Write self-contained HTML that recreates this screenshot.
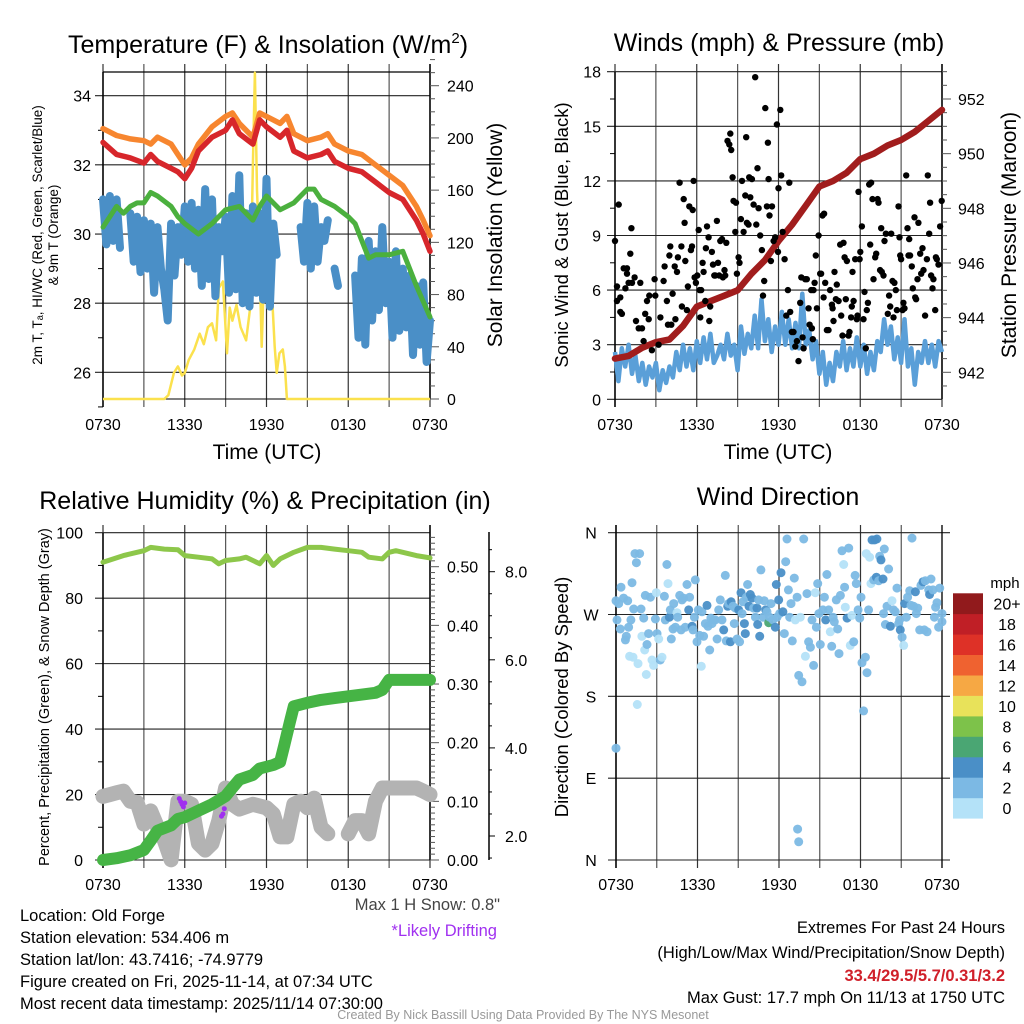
<!DOCTYPE html>
<html><head><meta charset="utf-8"><title>Old Forge Meteogram</title>
<style>
html,body{margin:0;padding:0;background:#fff;}
svg{display:block;font-family:"Liberation Sans",Arial,sans-serif;}
</style></head>
<body>
<svg id="fig" xmlns="http://www.w3.org/2000/svg" width="1024" height="1024" viewBox="0 0 1024 1024">
<rect x="0" y="0" width="1024" height="1024" fill="#fff"/>
<g fill="#000">
<text x="268" y="53" font-size="25" text-anchor="middle">Temperature (F) &amp; Insolation (W/m<tspan font-size="15" dy="-10">2</tspan><tspan dy="10">)</tspan></text>
<text x="779" y="51" font-size="25" text-anchor="middle">Winds (mph) &amp; Pressure (mb)</text>
<text x="265" y="509" font-size="25" text-anchor="middle">Relative Humidity (%) &amp; Precipitation (in)</text>
<text x="778" y="505" font-size="25" text-anchor="middle">Wind Direction</text>
</g>
<g id="layers"></g>
<g font-size="16.5" fill="#000">
<text x="20" y="921">Location: Old Forge</text>
<text x="20" y="943">Station elevation: 534.406 m</text>
<text x="20" y="965">Station lat/lon: 43.7416; -74.9779</text>
<text x="20" y="987">Figure created on Fri, 2025-11-14, at 07:34 UTC</text>
<text x="20" y="1009">Most recent data timestamp: 2025/11/14 07:30:00</text>
<text x="500" y="910" text-anchor="end" fill="#444">Max 1 H Snow: 0.8"</text>
<text x="497" y="936" text-anchor="end" fill="#a030f0">*Likely Drifting</text>
<text x="1005" y="933" text-anchor="end">Extremes For Past 24 Hours</text>
<text x="1005" y="958" text-anchor="end">(High/Low/Max Wind/Precipitation/Snow Depth)</text>
<text x="1005" y="981" text-anchor="end" fill="#d0202a" font-weight="bold">33.4/29.5/5.7/0.31/3.2</text>
<text x="1005" y="1003" text-anchor="end">Max Gust: 17.7 mph On 11/13 at 1750 UTC</text>
<text x="523" y="1019" text-anchor="middle" font-size="12.5" fill="#999">Created By Nick Bassill Using Data Provided By The NYS Mesonet</text>
</g>
</svg>
<script>
// ---------- DATA ----------
const timeTickLabels = ["0730","1330","1930","0130","0730"];
// Panel 1: temperature (F), times in hours since 0730
const orangeT = [0,1,2,3,3.5,4,5,5.5,6,6.5,7,8,9,9.5,10,11,11.5,12,13,13.5,14,15,16,16.5,17,18,19,20,21,22,23,23.5,24];
const orangeV = [33.05,32.85,32.75,32.7,32.6,32.8,32.6,32.3,32.0,32.2,32.6,33.1,33.4,33.5,33.2,32.8,33.5,33.4,33.2,33.4,32.9,32.7,32.8,32.9,32.6,32.4,32.3,32.0,31.7,31.4,30.8,30.4,29.95];
const redT = [0,1,2,3,3.5,4,5,5.5,6,6.5,7,8,9,9.5,10,11,11.5,12,13,13.5,14,15,16,16.5,17,18,19,20,21,22,23,23.5,24];
const redV = [32.65,32.3,32.2,32.05,32.3,32.1,31.9,31.8,31.6,31.9,32.4,32.8,33.0,33.3,32.9,32.6,33.3,33.1,32.8,33.0,32.4,32.2,32.3,32.4,32.1,31.9,31.8,31.5,31.2,31.0,30.4,30.0,29.5];
const greenT = [0,0.5,1,1.5,2,2.5,3,3.5,4,5,5.5,6,7,8,9,10,11,11.5,12,13,14,15,15.5,16,17,18,18.5,19,19.5,20,21,22,22.5,23,24];
const greenV = [30.2,30.5,30.8,30.6,30.8,30.9,30.9,31.2,31.1,30.8,30.5,30.3,30.0,30.3,30.7,30.8,30.4,30.8,31.1,30.7,30.9,31.3,31.3,31.0,30.8,30.5,30.3,29.8,29.3,29.4,29.4,29.5,29.0,28.5,27.6];
const blueSegStart = [0, 2.0, 6.25, 14.5, 17.0, 18.5];
const blueSegVals = [
 [31.0,29.7,31.1,29.8,31.0,29.6],
 [30.6,29.2,30.5,28.9,30.4,29.0,30.3,28.3,30.2,29.0,28.4,27.5,30.3,28.8,30.2,29.4,30.8],
 [29.2,30.9,29.0,30.7,28.5,31.3,28.7,31.0,28.2,30.2,29.5,30.5,28.3,31.1,28.4,31.7,28.0,30.6,27.9,30.8,28.3,30.6,28.1,31.6,27.9,30.3,29.4],
 [30.2,29.2,30.9,29.0,30.8,29.2,30.2,29.8,30.4],
 [29.0,28.5],
 [28.8,27.0,29.3,26.8,29.8,27.5,29.5,27.8,30.2,28.0,29.2,27.0,29.5,27.2,29.0,27.3,28.8,26.5,28.5,26.8,28.6,26.3,27.5]
];
const solarT = [0,4.5,4.8,5.2,5.5,5.8,6.0,6.3,6.7,7.1,7.4,7.7,8.0,8.3,8.5,8.8,9.1,9.3,9.5,9.8,10.1,10.5,10.8,11.0,11.15,11.3,11.45,11.65,11.8,12.0,12.2,12.4,12.6,12.75,12.95,13.2,13.35,13.5,13.8,24];
const solarV = [0,0,3,20,25,18,20,30,38,50,42,55,58,45,85,90,35,70,60,72,55,45,70,180,250,160,120,40,90,135,110,80,40,20,35,38,25,0,0,0];
const tempTicks = [26,28,30,32,34];
const solarTicks = [0,40,80,120,160,200,240];
// Panel 2: winds
const windVals = [2.6,1.0,2.8,1.8,3.0,1.4,2.4,1.0,2.0,0.8,1.8,1.2,2.0,0.5,1.6,0.9,1.8,1.2,2.6,1.6,3.0,1.8,2.8,1.6,3.2,2.0,3.4,2.2,3.6,2.0,2.4,3.0,2.2,3.6,2.4,3.0,1.6,4.0,2.5,3.6,2.8,4.6,2.8,5.5,3.2,4.4,2.6,4.0,3.0,4.8,3.0,4.4,2.8,4.2,2.8,5.8,3.0,3.8,2.2,3.2,1.4,2.6,0.8,2.0,1.0,2.6,1.8,3.2,1.6,2.8,1.8,3.4,1.8,3.0,1.4,2.6,1.6,3.2,2.6,4.4,3.0,4.0,2.2,3.4,2.0,4.4,1.8,2.8,0.8,2.6,2.0,3.2,2.0,3.0,1.8,3.2,2.6];
const gustT = [0,0.15,0.27,0.15,0.39,0.51,0.39,0.64,0.76,0.88,0.88,1.0,1.12,1.2,1.25,1.44,1.54,1.74,1.86,1.98,2.1,2.22,2.35,2.47,2.52,2.71,2.91,2.96,3.2,3.33,3.57,3.64,3.81,3.89,3.99,4.06,4.13,4.23,4.38,4.43,4.55,4.62,4.74,4.87,4.91,5.04,5.11,5.16,5.28,5.35,5.45,5.57,5.65,5.7,5.77,5.84,5.94,6.04,6.14,6.21,6.26,6.33,6.43,6.5,6.63,6.67,6.75,6.87,6.92,6.99,7.11,7.19,7.29,7.36,7.48,7.56,7.65,7.73,7.85,7.92,8.04,8.09,8.17,8.26,8.39,8.46,8.53,8.63,8.7,8.83,8.88,8.95,9.07,9.14,9.24,9.32,9.44,9.56,9.63,9.68,9.8,9.85,9.93,10.05,10.17,10.29,10.37,10.46,10.54,10.66,10.78,10.86,10.95,11.03,11.15,11.22,11.27,11.34,11.44,11.52,11.64,11.76,11.88,11.96,12.0,12.13,12.2,12.3,12.45,12.57,12.69,12.79,12.86,12.98,13.1,13.23,13.35,13.47,13.59,13.67,13.77,13.84,13.96,14.08,14.21,14.28,14.4,14.45,14.52,14.57,14.65,14.74,14.82,14.94,15.06,15.13,15.23,15.31,15.35,15.43,15.55,15.67,15.79,15.92,15.97,16.04,16.11,16.21,16.28,16.41,16.53,16.6,16.7,16.77,16.85,16.94,17.02,17.14,17.21,17.33,17.38,17.43,17.51,17.63,17.75,17.8,17.87,17.95,18.0,18.12,18.24,18.31,18.41,18.48,18.56,18.66,18.73,18.8,18.9,18.97,19.1,19.17,19.27,19.34,19.46,19.54,19.58,19.71,19.78,19.88,20.02,20.12,20.2,20.27,20.37,20.44,20.51,20.61,20.69,20.81,20.88,20.93,21.0,21.1,21.17,21.25,21.37,21.47,21.54,21.59,21.66,21.78,21.86,21.98,22.03,22.1,22.2,22.27,22.4,22.47,22.57,22.64,22.76,22.89,22.96,23.06,23.13,23.2,23.3,23.37,23.5,23.55,23.62,23.74,23.86,23.98];
const gustV = [8.7,6.2,10.7,5.4,4.8,4.7,5.6,7.2,6.1,7.2,6.9,6.4,8.0,9.4,6.4,6.7,4.3,3.9,6.4,3.9,3.2,4.7,5.4,4.4,5.7,2.7,6.6,5.7,3.0,4.5,6.5,7.3,5.4,4.1,7.9,8.4,4.1,5.8,7.3,4.4,7.0,7.8,11.9,8.4,5.1,11.0,9.7,7.6,4.9,6.2,10.6,8.2,8.4,10.4,12.0,6.7,6.4,6.8,9.3,6.0,4.5,6.0,7.5,7.0,5.4,8.3,9.5,8.9,4.3,5.1,8.1,7.4,6.8,6.8,9.8,7.5,6.8,8.7,8.8,6.7,7.1,6.8,8.6,14.2,14.0,14.6,13.7,12.2,10.9,9.2,10.8,6.9,7.8,7.5,9.9,12.0,9.2,11.2,14.4,9.7,9.6,12.2,11.1,12.1,10.7,17.7,9.6,12.7,10.5,9.0,8.2,5.7,6.5,16.0,10.6,14.1,12.1,10.1,7.6,10.6,8.7,8.9,15.1,8.1,11.6,15.9,12.3,9.2,7.7,4.6,6.0,11.9,4.8,3.7,3.7,2.9,3.2,2.1,5.3,6.7,3.4,2.8,6.6,6.6,5.0,4.1,6.0,3.9,3.3,6.0,6.4,7.9,5.0,9.0,6.9,6.9,10.1,5.6,10.2,6.4,3.8,3.8,6.0,5.2,5.0,4.3,7.0,5.5,6.3,5.4,8.5,4.6,3.5,8.6,7.8,5.5,7.6,3.5,3.7,4.5,5.1,7.0,5.4,7.7,4.4,4.6,11.4,7.7,8.1,9.5,4.4,5.9,2.8,4.9,5.3,11.8,8.5,11.9,11.0,6.6,7.8,8.0,11.0,10.8,7.1,9.4,7.0,6.8,8.7,9.1,4.7,5.7,5.1,9.1,6.5,4.5,6.4,6.0,4.9,10.6,8.9,7.9,7.7,4.9,5.3,5.0,12.3,9.4,7.9,8.8,7.9,7.3,6.1,10.0,5.6,5.5,6.6,9.7,8.0,6.9,8.3,7.1,4.6,7.7,12.3,9.1,10.8,6.8,6.1,6.6,4.9,7.8,7.7,7.4,9.5,10.9];
const presT = [0,1,2,3,4,5,6,7,8,9,10,11,12,13,14,15,16,17,18,19,20,21,22,23,24];
const presV = [942.5,942.6,942.9,943.1,943.2,943.7,944.4,944.6,944.8,945.0,945.6,946.1,946.8,947.4,948.1,948.8,949.0,949.3,949.8,950.0,950.3,950.5,950.8,951.2,951.6];
const windTicks = [0,3,6,9,12,15,18];
const presTicks = [942,944,946,948,950,952];
// Panel 3: humidity / precip / snow
const rhT = [0,1.5,3,3.5,4.5,5.5,6,7,8,8.5,9,10,10.5,11.5,12,12.5,13,14,15,16,17,18,19,19.5,20.5,21,21.5,22,23,24];
const rhV = [91,93,94.5,95.5,95,94.8,93,92.5,92,90.5,91.5,92,92.5,90.5,93,90,92,94,95.5,95.5,95,94.5,94,92.5,92,94,94.5,94,93,92.3];
const prT = [0,1,2,3,3.5,4,5,5.5,6,7,8,9,9.5,10,11,11.5,12.5,13,13.3,13.7,14,15,16,17,18,19,20,20.5,21,22,24];
const prV = [0,0.003,0.008,0.017,0.033,0.05,0.059,0.07,0.073,0.084,0.095,0.109,0.123,0.137,0.145,0.156,0.162,0.167,0.195,0.234,0.262,0.268,0.273,0.276,0.279,0.282,0.285,0.29,0.307,0.307,0.307];
const snT = [0,0.5,1,1.5,2,2.5,3,3.5,4,4.5,5,5.5,6,6.5,7,7.5,8,8.5,9,9.5,10,11,12,12.5,13,13.5,14,14.5,15,15.5,16,16.5,17,17.5,18,18.5,19,19.5,20,20.5,21,22,23,23.5,24];
const snV = [2.90,2.94,2.98,3.02,2.79,2.76,2.27,2.57,2.20,1.90,1.46,2.79,2.79,2.72,1.83,1.68,1.83,2.35,3.09,2.72,2.61,2.72,2.64,2.50,1.98,1.98,2.72,2.79,2.64,2.86,2.20,2.05,null,null,2.05,2.35,2.35,2.05,2.79,3.09,3.09,3.09,3.09,3.02,2.94];
const driftT = [5.6,5.7,5.8,5.9,6.0,8.7,8.8,8.9];
const driftV = [2.85,2.78,2.72,2.66,2.75,2.45,2.5,2.62];
const rhTicks = [0,20,40,60,80,100];
const prTicks = ["0.00","0.10","0.20","0.30","0.40","0.50"];
const snTicks = ["2.0","4.0","6.0","8.0"];
// Panel 4: wind direction
const wdT = [0,0.07,0.2,0.37,0.32,0.56,0.69,0.76,0.86,0.93,1.0,1.1,1.18,1.25,1.3,1.4,1.5,1.62,1.57,1.74,1.84,1.91,2.04,2.11,2.16,2.28,2.23,2.4,2.53,2.65,2.77,2.9,2.97,3.02,3.14,3.26,3.39,3.56,3.63,3.75,3.83,3.93,4.0,4.07,4.2,4.25,4.37,4.49,4.54,4.69,4.79,4.86,4.98,5.1,5.23,5.35,5.42,5.6,5.67,5.77,5.84,5.96,6.06,6.16,6.28,6.33,6.45,6.58,6.7,6.77,6.9,6.99,7.07,7.19,7.31,7.44,7.56,7.68,7.8,7.93,8.05,8.12,8.22,8.29,8.42,8.47,8.61,8.71,8.79,8.91,9.03,9.1,9.2,9.28,9.35,9.45,9.52,9.6,9.69,9.79,9.89,10.01,10.13,10.26,10.38,10.43,10.5,10.58,10.67,10.82,10.92,11.02,11.12,11.24,11.31,11.41,11.56,11.73,11.8,11.85,11.98,12.05,12.15,12.29,12.39,12.49,12.59,12.69,12.79,12.88,12.98,13.13,13.2,13.33,13.45,13.57,13.69,13.82,13.94,14.06,14.18,14.31,14.43,14.55,14.67,14.75,14.85,14.94,15.04,15.24,15.34,15.44,15.53,15.66,15.78,15.88,15.98,16.07,16.22,16.32,16.42,16.52,16.64,16.76,16.83,16.88,17.01,17.13,17.25,17.37,17.5,17.6,17.69,17.82,17.94,18.04,18.11,18.23,18.36,18.43,18.48,18.6,18.67,18.77,18.85,18.97,19.04,19.17,19.21,19.34,19.41,19.51,19.66,19.75,19.7,19.83,19.95,20.07,20.2,20.32,20.44,20.56,20.69,20.81,20.88,20.93,21.06,21.18,21.25,21.37,21.47,21.62,21.72,21.79,21.91,22.04,22.11,22.21,22.36,22.45,22.6,22.7,22.77,22.9,23.02,23.09,23.19,23.34,23.44,23.53,23.63,23.75,23.83,24.0,24.0,13.37,13.45,0.0];
const wdDir = [285,264,282,300,254,288,242,246,285,256,224,264,305,223,276,337,327,216,171,337,276,246,266,231,291,237,204,249,289,220,214,265,294,249,243,220,223,290,264,325,304,267,275,243,254,282,256,272,267,291,253,286,288,256,303,275,289,257,253,267,308,240,275,247,213,273,246,260,280,257,231,266,260,264,264,243,275,286,264,253,313,241,279,282,240,284,279,260,277,243,275,240,294,271,284,260,249,289,303,279,292,288,277,267,277,259,286,246,319,267,285,275,273,261,267,282,264,256,303,267,286,271,316,273,249,328,353,297,267,282,241,310,264,289,203,267,196,353,224,293,240,234,264,214,294,256,304,271,237,275,289,264,314,275,251,235,267,262,286,254,227,291,340,325,300,278,266,343,236,269,240,313,304,275,266,289,217,164,223,337,206,275,333,304,352,308,352,311,353,307,334,330,309,342,271,259,279,320,257,285,275,273,299,260,264,253,245,236,282,267,289,296,280,354,279,295,271,277,253,302,306,253,307,251,297,292,309,297,267,278,283,256,299,271,262,34,20,123];
const wdSpd = [3,3,3,3,3,3,3,3,3,3,1,3,3,1,3,3,3,1,1,3,3,1,3,1,3,3,1,3,3,1,1,3,1,3,1,3,1,3,3,3,1,5,3,3,3,3,3,1,3,3,3,3,3,3,3,5,3,5,3,3,3,3,3,3,1,3,3,3,5,3,3,3,3,3,3,3,3,3,3,5,3,3,5,3,5,5,3,3,3,3,5,3,5,3,3,5,5,3,3,5,5,5,3,3,5,5,3,5,3,3,3,5,3,7,3,3,3,5,5,3,5,3,5,5,3,3,3,3,3,3,3,3,1,3,3,1,3,3,1,3,3,3,3,3,1,3,3,3,3,3,3,5,3,3,1,3,3,3,3,3,3,3,3,1,3,1,5,3,1,1,3,3,3,3,3,3,3,3,3,1,3,3,1,1,5,3,5,5,5,3,3,5,5,3,3,3,3,3,5,1,3,3,3,3,3,5,3,1,5,3,3,3,3,3,3,5,3,3,3,3,5,3,3,3,3,5,3,3,3,3,3,3,3,3,3,3,3,3,3,1,1,1];
const dirTicks = ["N","E","S","W","N"];
const cbLabels = ["0","2","4","6","8","10","12","14","16","18","20+"];
const cbColors = ["#b4e2f8","#7cb9e4","#4a8fc7","#4aa673","#7dc24a","#e8e25a","#f6a844","#ef6230","#de3127","#c01f26","#911a1c"];

// ---------- DRAWING ----------
const NS = "http://www.w3.org/2000/svg";
const root = document.getElementById("layers");
function mk(tag, attrs, parent) {
  const el = document.createElementNS(NS, tag);
  for (const k in attrs) el.setAttribute(k, attrs[k]);
  (parent || root).appendChild(el);
  return el;
}
function grp(name) {
  const g = mk("g", {});
  
  
  return g;
}
function txt(parent, name, x, y, s, size, anchor, extra) {
  const t = mk("text", Object.assign({x: x, y: y, "font-size": size, "text-anchor": anchor || "middle", fill: "#000"}, extra || {}), parent);
  t.textContent = s;
  
  
  return t;
}
function pathFrom(ts, vs, xf, yf) {
  let d = "", pen = false;
  for (let i = 0; i < ts.length; i++) {
    if (vs[i] === null || vs[i] === undefined) { pen = false; continue; }
    d += (pen ? "L" : "M") + xf(ts[i]).toFixed(1) + " " + yf(vs[i]).toFixed(1);
    pen = true;
  }
  return d;
}
function line(parent, name, x1, y1, x2, y2, color, w) {
  const l = mk("line", {x1: x1, y1: y1, x2: x2, y2: y2, stroke: color, "stroke-width": w}, parent);
  
  
  return l;
}
const TS = 16; // tick label size

function timeGrid(g, x0, x1, y0, y1, labelY) {
  for (let i = 0; i <= 8; i++) {
    const x = x0 + i * (x1 - x0) / 8;
    line(g, "time-gridline", x, y0 - 8, x, y1 + 8, i % 2 ? "#555" : "#333", 1.2);
  }
  for (let i = 0; i < timeTickLabels.length; i++) {
    const x = x0 + i * (x1 - x0) / 4;
    txt(g, "time-tick-label", x, labelY, timeTickLabels[i], TS);
  }
}

// ===== Panel 1 =====
(function() {
  const X0 = 103, X1 = 430, Y0 = 72, Y1 = 399;
  const xS = t => X0 + t / 24 * (X1 - X0);
  const yT = v => 95.7 + (34 - v) * 34.58;
  const yS = v => 399 - v * 1.3054;
  const g = grp("temperature-panel");
  const ax = grp("temperature-axes"); g.appendChild(ax);
  timeGrid(ax, X0, X1, Y0, Y1, 430);
  line(ax, "top-border", X0, Y0, X1, Y0, "#000", 1.3);
  for (const v of tempTicks) {
    line(ax, "temp-gridline", X0 - 8, yT(v), X1, yT(v), "#222", 1.1);
    txt(ax, "temp-tick-label", X0 - 12, yT(v) + 6, String(v), TS, "end");
  }
  for (const v of [25, 27, 29, 31, 33]) line(ax, "temp-minor-tick", X0 - 5, yT(v), X0, yT(v), "#000", 1);
  line(ax, "left-axis", X0, Y0, X0, Y1 + 8, "#000", 1.5);
  line(ax, "right-axis", X1, Y0 - 8, X1, Y1, "#000", 1.5);
  line(ax, "bottom-solar-baseline", X0, Y1, X1, Y1, "#000", 1);
  for (let v = 0; v <= 260; v += 10) line(ax, "solar-minor-tick", X1, yS(v), X1 + (v % 40 === 0 ? 9 : 5), yS(v), "#555", 1);
  for (const v of solarTicks) txt(ax, "solar-tick-label", X1 + 17, yS(v) + 6, String(v), TS, "start");
  txt(ax, "x-axis-title", 267, 459, "Time (UTC)", 21);
  txt(ax, "left-axis-title-line1", 0, 0, "2m T, T\u2090, HI/WC (Red, Green, Scarlet/Blue)", 13.5, "middle", {transform: "translate(42,235) rotate(-90)"});
  txt(ax, "left-axis-title-line2", 0, 0, "& 9m T (Orange)", 13.5, "middle", {transform: "translate(58,235) rotate(-90)"});
  txt(ax, "right-axis-title", 0, 0, "Solar Insolation (Yellow)", 21, "middle", {transform: "translate(502,235) rotate(-90)"});
  const sol = mk("path", {d: pathFrom(solarT, solarV, xS, yS), fill: "none", stroke: "#fbe14d", "stroke-width": 2.5, "stroke-linejoin": "round"}, g);
  
  
  for (let s = 0; s < blueSegStart.length; s++) {
    const ts = blueSegVals[s].map((v, i) => blueSegStart[s] + i * 0.25);
    const p = mk("path", {d: pathFrom(ts, blueSegVals[s], xS, yT), fill: "none", stroke: "#4a8fc7", "stroke-width": 8, "stroke-linejoin": "round", "stroke-linecap": "round"}, g);
    
    
  }
  const gr = mk("path", {d: pathFrom(greenT, greenV, xS, yT), fill: "none", stroke: "#4bb03e", "stroke-width": 5, "stroke-linejoin": "round", "stroke-linecap": "round"}, g);
  
  
  const or = mk("path", {d: pathFrom(orangeT, orangeV, xS, yT), fill: "none", stroke: "#f7862f", "stroke-width": 5.5, "stroke-linejoin": "round", "stroke-linecap": "round"}, g);
  
  
  const rd = mk("path", {d: pathFrom(redT, redV, xS, yT), fill: "none", stroke: "#d7262b", "stroke-width": 5.5, "stroke-linejoin": "round", "stroke-linecap": "round"}, g);
  
  
})();

// ===== Panel 2 =====
(function() {
  const X0 = 615, X1 = 942, Y0 = 72, Y1 = 399;
  const xS = t => X0 + t / 24 * (X1 - X0);
  const yW = v => 399.3 - v * 18.2;
  const yP = p => 372.3 - (p - 942) * 27.33;
  const g = grp("winds-panel");
  const ax = grp("winds-axes"); g.appendChild(ax);
  timeGrid(ax, X0, X1, Y0, Y1, 430);
  for (const v of windTicks) {
    line(ax, "wind-gridline", X0 - 8, yW(v), X1, yW(v), "#222", 1.1);
    txt(ax, "wind-tick-label", X0 - 14, yW(v) + 6, String(v), TS, "end");
  }
  for (let v = 1.5; v < 18; v += 3) line(ax, "wind-minor-tick", X0 - 5, yW(v), X0, yW(v), "#000", 1);
  line(ax, "left-axis", X0, Y0, X0, Y1 + 8, "#000", 1.5);
  line(ax, "right-axis", X1, Y0 - 8, X1, Y1, "#000", 1.5);
  for (let p = 941.5; p <= 953; p += 0.5) line(ax, "pressure-minor-tick", X1, yP(p), X1 + (Math.abs(p % 2) < 0.01 ? 9 : 5), yP(p), "#555", 1);
  for (const p of presTicks) txt(ax, "pressure-tick-label", X1 + 16, yP(p) + 6, String(p), TS, "start");
  txt(ax, "x-axis-title", 778, 459, "Time (UTC)", 21);
  txt(ax, "left-axis-title", 0, 0, "Sonic Wind & Gust (Blue, Black)", 18.5, "middle", {transform: "translate(568,235) rotate(-90)"});
  txt(ax, "right-axis-title", 0, 0, "Station Pressure (Maroon)", 21, "middle", {transform: "translate(1016,235) rotate(-90)"});
  const wt = windVals.map((v, i) => i * 24 / (windVals.length - 1));
  const wl = mk("path", {d: pathFrom(wt, windVals, xS, yW), fill: "none", stroke: "#5a9fd8", "stroke-width": 4.5, "stroke-linejoin": "round"}, g);
  
  
  const pl = mk("path", {d: pathFrom(presT, presV, xS, yP), fill: "none", stroke: "#a11d1d", "stroke-width": 6.5, "stroke-linejoin": "round", "stroke-linecap": "round"}, g);
  
  
  const gg = grp("gust-points"); g.appendChild(gg);
  for (let i = 0; i < gustT.length; i++) {
    const c = mk("circle", {cx: xS(gustT[i]).toFixed(1), cy: yW(gustV[i]).toFixed(1), r: 3.2, fill: "#000"}, gg);
    
    
  }
})();

// ===== Panel 3 =====
(function() {
  const X0 = 103, X1 = 430, Y0 = 533, Y1 = 860;
  const xS = t => X0 + t / 24 * (X1 - X0);
  const yR = v => 860 - v * 3.273;
  const yPr = v => 860 - v * 586.6;
  const ySn = v => 836 - (v - 2) * 44.05;
  const g = grp("humidity-panel");
  const ax = grp("humidity-axes"); g.appendChild(ax);
  timeGrid(ax, X0, X1, Y0, Y1, 890);
  for (const v of rhTicks) {
    line(ax, "rh-gridline", X0 - 8, yR(v), X1, yR(v), "#222", 1.1);
    txt(ax, "rh-tick-label", X0 - 20, yR(v) + 6, String(v), TS, "end");
  }
  for (let v = 10; v < 100; v += 20) line(ax, "rh-minor-tick", X0 - 5, yR(v), X0, yR(v), "#000", 1);
  line(ax, "left-axis", X0, Y0, X0, Y1 + 8, "#000", 1.5);
  line(ax, "right-axis", X1, Y0 - 8, X1, Y1, "#000", 1.5);
  for (let k = 0; k <= 55; k++) {
    const v = k / 100;
    line(ax, "precip-minor-tick", X1, yPr(v), X1 + (k % 10 === 0 ? 9 : 5), yPr(v), "#555", 1);
  }
  for (const s of prTicks) txt(ax, "precip-tick-label", X1 + 17, yPr(parseFloat(s)) + 6, s, TS, "start");
  line(ax, "snow-axis", 489, 532, 489, 860, "#000", 1.5);
  for (let v = 1.5; v <= 9.0; v += 0.5) {
    const y = ySn(v);
    if (y < 532 || y > 860) continue;
    line(ax, "snow-minor-tick", 489, y, 489 + (Math.abs(v % 2) < 0.01 ? 6 : 3), y, "#000", 1);
  }
  for (const s of snTicks) txt(ax, "snow-tick-label", 505, ySn(parseFloat(s)) + 6, s, TS, "start");
  txt(ax, "left-axis-title", 0, 0, "Percent, Precipitation (Green), & Snow Depth (Gray)", 14.5, "middle", {transform: "translate(49,697) rotate(-90)"});
  const sn = mk("path", {d: pathFrom(snT, snV, xS, ySn), fill: "none", stroke: "#b3b3b3", "stroke-width": 15, "stroke-linejoin": "round", "stroke-linecap": "round"}, g);
  
  
  const pr = mk("path", {d: pathFrom(prT, prV, xS, yPr), fill: "none", stroke: "#46b445", "stroke-width": 12, "stroke-linejoin": "round", "stroke-linecap": "round"}, g);
  
  
  const rh = mk("path", {d: pathFrom(rhT, rhV, xS, yR), fill: "none", stroke: "#8dc74a", "stroke-width": 5, "stroke-linejoin": "round", "stroke-linecap": "round"}, g);
  
  
  for (let i = 0; i < driftT.length; i++) {
    const c = mk("circle", {cx: xS(driftT[i]).toFixed(1), cy: ySn(driftV[i]).toFixed(1), r: 2.5, fill: "#a030f0"}, g);
    
    
  }
})();

// ===== Panel 4 =====
(function() {
  const X0 = 616, X1 = 942, Y0 = 533, Y1 = 860;
  const xS = t => X0 + t / 24 * (X1 - X0);
  const yD = d => 860 - d * 0.9093;
  const g = grp("wind-direction-panel");
  const ax = grp("wind-direction-axes"); g.appendChild(ax);
  timeGrid(ax, X0, X1, Y0, Y1, 890);
  for (let i = 0; i < dirTicks.length; i++) {
    const y = yD(i * 90);
    line(ax, "direction-gridline", X0 - 8, y, X1 + 8, y, "#222", 1.1);
    txt(ax, "direction-tick-label", 591, y + 6, dirTicks[i], 16);
  }
  line(ax, "left-axis", X0, Y0 - 8, X0, Y1 + 8, "#000", 1.5);
  line(ax, "right-axis", X1, Y0 - 8, X1, Y1 + 8, "#000", 1.2);
  txt(ax, "left-axis-title", 0, 0, "Direction (Colored By Speed)", 18.5, "middle", {transform: "translate(568,697) rotate(-90)"});
  const dg = grp("direction-points"); g.appendChild(dg);
  for (let i = 0; i < wdT.length; i++) {
    const ci = Math.min(10, Math.floor(wdSpd[i] / 2));
    const c = mk("circle", {cx: xS(wdT[i]).toFixed(1), cy: yD(wdDir[i]).toFixed(1), r: 4.5, fill: cbColors[ci], "fill-opacity": 0.95}, dg);
    
    
  }
  const cb = grp("speed-colorbar"); g.appendChild(cb);
  const bh = (818.3 - 593.3) / cbColors.length;
  for (let i = 0; i < cbColors.length; i++) {
    const y = 818.3 - (i + 1) * bh;
    const r = mk("rect", {x: 953, y: y.toFixed(1), width: 30, height: (bh + 0.3).toFixed(1), fill: cbColors[i]}, cb);
    
    
    txt(cb, "colorbar-label", 1007, y + bh / 2 + 6, cbLabels[i], 16);
  }
  txt(cb, "colorbar-unit", 1005, 588, "mph", 15);
})();
</script>
</body></html>
